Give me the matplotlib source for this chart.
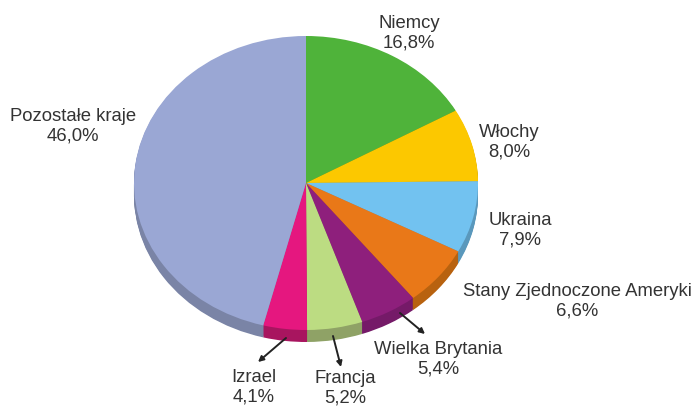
import matplotlib
matplotlib.use("Agg")
import matplotlib.pyplot as plt
from matplotlib.patches import Wedge
from matplotlib.transforms import Affine2D
import numpy as np

labels = ["Niemcy", "Włochy", "Ukraina", "Stany Zjednoczone Ameryki",
          "Wielka Brytania", "Francja", "Izrael", "Pozostałe kraje"]
values = [16.8, 8.0, 7.9, 6.6, 5.4, 5.2, 4.1, 46.0]
value_labels = ["16,8%", "8,0%", "7,9%", "6,6%", "5,4%", "5,2%", "4,1%", "46,0%"]
colors = ["#4fb33a", "#fcc800", "#72c2f0", "#e97818", "#8e1f7c", "#bcdc82", "#e5177f", "#9aa7d4"]
side_colors = ["#3a8a2a", "#c49c00", "#5a98bc", "#b8620f", "#751a68", "#8fa266", "#a8155f", "#7a84a6"]

fig = plt.figure(figsize=(6.96, 4.07), dpi=100)
ax = fig.add_axes([0, 0, 1, 1])
ax.set_xlim(0, 696)
ax.set_ylim(407, 0)
ax.axis("off")

cx, cy = 306, 183
rx, ry = 172, 147
depth = 12

# pie is drawn as a unit wedge scaled to an ellipse (y axis points down here)
squash = Affine2D().scale(rx, ry)


def wedge_at(dy, a0, a1, color, z):
    w = Wedge((0, 0), 1, a0, a1, facecolor=color, edgecolor="none", zorder=z)
    w.set_transform(squash + Affine2D().translate(cx, cy + dy) + ax.transData)
    ax.add_patch(w)


angles = 90 - np.cumsum([0] + values) * 3.6
# side wall: stacked copies from the bottom up, then the top face
for dy in np.arange(depth, 0, -1):
    for i in range(len(values)):
        wedge_at(dy, -angles[i], -angles[i + 1], side_colors[i], 2)
for i in range(len(values)):
    wedge_at(0, -angles[i], -angles[i + 1], colors[i], 3)

text_pos = [(409, 33), (509, 142), (520, 230), (577, 301), (438, 359), (345, 388), (254, 387), (73, 126)]
for name, val, (x, y) in zip(labels, value_labels, text_pos):
    ax.text(x, y, f"{name}\n{val}", ha="center", va="center", fontsize=13.3,
            family="Liberation Sans", color="#333333", linespacing=1.2, zorder=5)

# leader lines for the small slices, arrow heads point at the labels
leaders = [((400, 313), (425, 334)), ((333, 336), (341, 367)), ((286, 338), (258, 362))]
for start, end in leaders:
    ax.annotate("", xy=end, xytext=start,
                arrowprops=dict(arrowstyle="-|>", color="#222222", lw=1.4, mutation_scale=8,
                                shrinkA=0, shrinkB=0), zorder=6)

fig.savefig("out.png", dpi=100)
